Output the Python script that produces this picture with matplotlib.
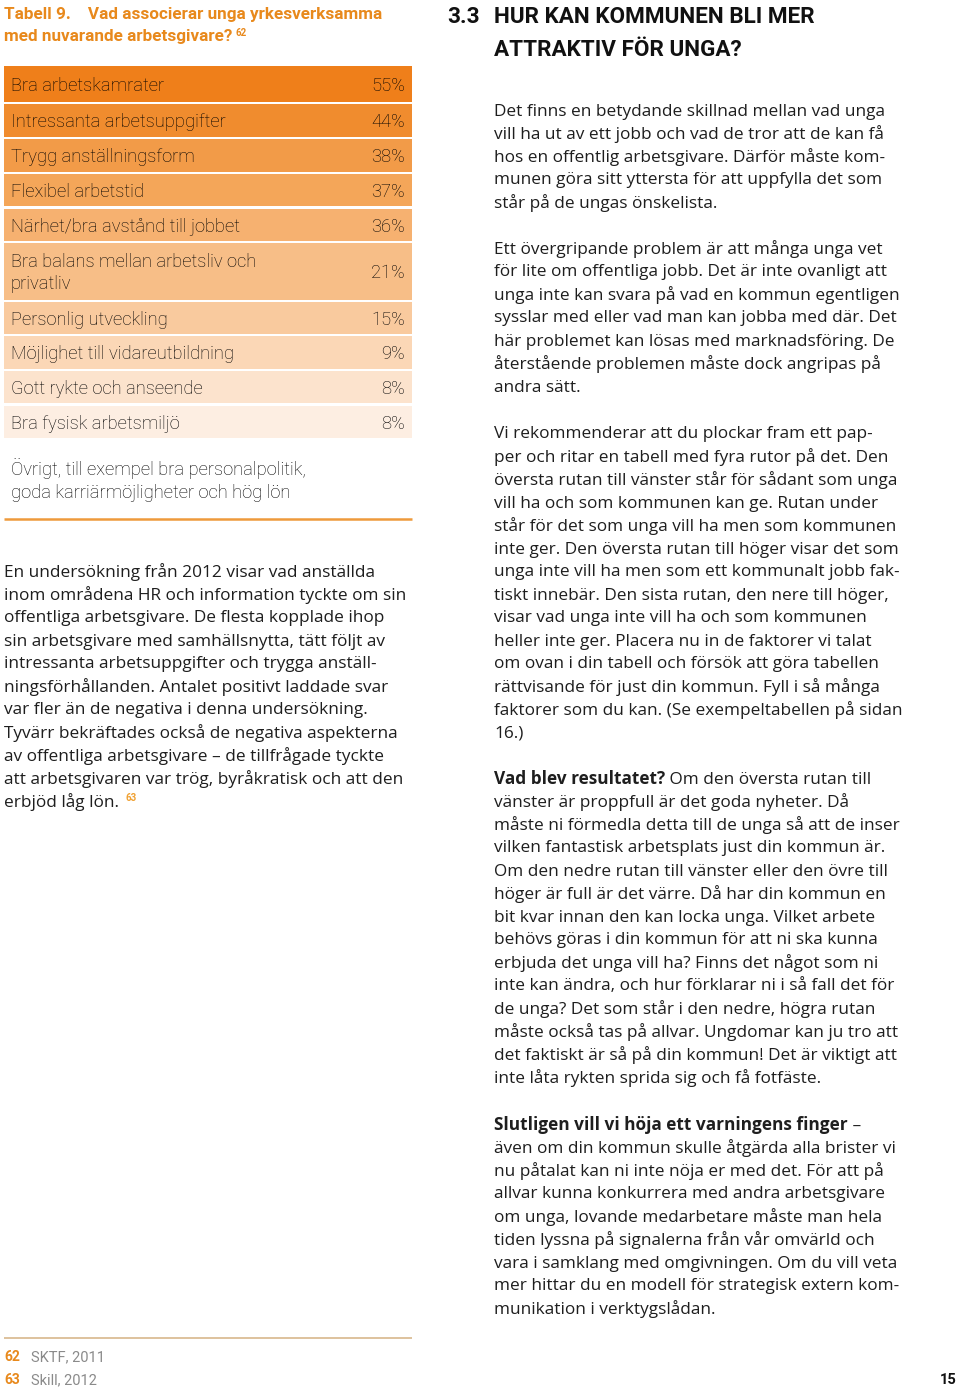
"""Page 15 recreation: table 9 (colour-graded rows) plus the two text columns."""
import matplotlib
matplotlib.use("Agg")
import matplotlib.pyplot as plt

# ---- data -------------------------------------------------------------
categories = [
    "Bra arbetskamrater",
    "Intressanta arbetsuppgifter",
    "Trygg anställningsform",
    "Flexibel arbetstid",
    "Närhet/bra avstånd till jobbet",
    "Bra balans mellan arbetsliv och\nprivatliv",
    "Personlig utveckling",
    "Möjlighet till vidareutbildning",
    "Gott rykte och anseende",
    "Bra fysisk arbetsmiljö",
]
values = [55, 44, 38, 37, 36, 21, 15, 9, 8, 8]
other_label = "Övrigt, till exempel bra personalpolitik,\ngoda karriärmöjligheter och hög lön"

title_lines = ["Tabell 9.    Vad associerar unga yrkesverksamma",
               "med nuvarande arbetsgivare?"]
heading_lines = ["HUR KAN KOMMUNEN BLI MER", "ATTRAKTIV FÖR UNGA?"]

left_para = [
    "En undersökning från 2012 visar vad anställda",
    "inom områdena HR och information tyckte om sin",
    "offentliga arbetsgivare. De flesta kopplade ihop",
    "sin arbetsgivare med samhällsnytta, tätt följt av",
    "intressanta arbetsuppgifter och trygga anställ-",
    "ningsförhållanden. Antalet positivt laddade svar",
    "var fler än de negativa i denna undersökning.",
    "Tyvärr bekräftades också de negativa aspekterna",
    "av offentliga arbetsgivare – de tillfrågade tyckte",
    "att arbetsgivaren var trög, byråkratisk och att den",
    "erbjöd låg lön.",
]

right_paras = [
    ["Det finns en betydande skillnad mellan vad unga",
     "vill ha ut av ett jobb och vad de tror att de kan få",
     "hos en offentlig arbetsgivare. Därför måste kom-",
     "munen göra sitt yttersta för att uppfylla det som",
     "står på de ungas önskelista."],
    ["Ett övergripande problem är att många unga vet",
     "för lite om offentliga jobb. Det är inte ovanligt att",
     "unga inte kan svara på vad en kommun egentligen",
     "sysslar med eller vad man kan jobba med där. Det",
     "här problemet kan lösas med marknadsföring. De",
     "återstående problemen måste dock angripas på",
     "andra sätt."],
    ["Vi rekommenderar att du plockar fram ett pap-",
     "per och ritar en tabell med fyra rutor på det. Den",
     "översta rutan till vänster står för sådant som unga",
     "vill ha och som kommunen kan ge. Rutan under",
     "står för det som unga vill ha men som kommunen",
     "inte ger. Den översta rutan till höger visar det som",
     "unga inte vill ha men som ett kommunalt jobb fak-",
     "tiskt innebär. Den sista rutan, den nere till höger,",
     "visar vad unga inte vill ha och som kommunen",
     "heller inte ger. Placera nu in de faktorer vi talat",
     "om ovan i din tabell och försök att göra tabellen",
     "rättvisande för just din kommun. Fyll i så många",
     "faktorer som du kan. (Se exempeltabellen på sidan",
     "16.)"],
    ["**Vad blev resultatet?** Om den översta rutan till",
     "vänster är proppfull är det goda nyheter. Då",
     "måste ni förmedla detta till de unga så att de inser",
     "vilken fantastisk arbetsplats just din kommun är.",
     "Om den nedre rutan till vänster eller den övre till",
     "höger är full är det värre. Då har din kommun en",
     "bit kvar innan den kan locka unga. Vilket arbete",
     "behövs göras i din kommun för att ni ska kunna",
     "erbjuda det unga vill ha? Finns det något som ni",
     "inte kan ändra, och hur förklarar ni i så fall det för",
     "de unga? Det som står i den nedre, högra rutan",
     "måste också tas på allvar. Ungdomar kan ju tro att",
     "det faktiskt är så på din kommun! Det är viktigt att",
     "inte låta rykten sprida sig och få fotfäste."],
    ["**Slutligen vill vi höja ett varningens finger** –",
     "även om din kommun skulle åtgärda alla brister vi",
     "nu påtalat kan ni inte nöja er med det. För att på",
     "allvar kunna konkurrera med andra arbetsgivare",
     "om unga, lovande medarbetare måste man hela",
     "tiden lyssna på signalerna från vår omvärld och",
     "vara i samklang med omgivningen. Om du vill veta",
     "mer hittar du en modell för strategisk extern kom-",
     "munikation i verktygslådan."],
]
right_starts = [110, 248, 433, 778, 1124]

footnotes = [("62", "SKTF, 2011"), ("63", "Skill, 2012")]
page_no = "15"

# ---- style ------------------------------------------------------------
ROW_COLOURS = ["#EF7F1A", "#F08C2E", "#F29B48", "#F4A659", "#F6B170",
               "#F7BE87", "#F9CA9E", "#FBD7B6", "#FCE3CD", "#FDEEE2"]
ROW_HEIGHTS = [36, 33, 32.5, 32.5, 32, 57, 32, 32.5, 32.5, 32.5]
ORANGE = "#E8891C"
INK = "#1E1E1E"
BODY = dict(family=["Open Sans", "DejaVu Sans"], fontsize=12.4, color=INK)
TABLE = dict(family=["Roboto", "DejaVu Sans"], fontsize=13.2, color="#000000", weight="light")
HEAD = dict(family=["Roboto", "DejaVu Sans"], weight="bold")
LH = 23  # body line height, px
DY = 1.5  # va=center sits a little high against the page baselines

fig = plt.figure(figsize=(9.6, 13.89), dpi=100)
ax = fig.add_axes([0, 0, 1, 1])
ax.set_xlim(0, 960)
ax.set_ylim(1389, 0)
ax.axis("off")

# ---- table ------------------------------------------------------------
tops, y = [], 65.7
for h in ROW_HEIGHTS:
    tops.append(y)
    y += h + 2.2
centers = [t + h / 2 for t, h in zip(tops, ROW_HEIGHTS)]
ax.barh(centers, 408, height=ROW_HEIGHTS, left=4, color=ROW_COLOURS, lw=0)
for c, lab, v in zip(centers, categories, values):
    ax.text(11, c + 2, lab, va="center", ha="left", linespacing=1.3, **TABLE)
    ax.text(405, c + 2, f"{v}%", va="center", ha="right", **TABLE)
ax.text(11, 480, other_label, va="center", ha="left", linespacing=1.4, **TABLE)
ax.plot([4, 412], [518.5, 518.5], color="#EE9A3C", lw=1.8, solid_capstyle="butt")

# title
ax.text(4, 14, title_lines[0], va="center", ha="left", color=ORANGE, fontsize=12.3, **HEAD)
t2 = ax.text(4, 37, title_lines[1], va="center", ha="left", color=ORANGE, fontsize=12.3, **HEAD)

fig.canvas.draw()
renderer = fig.canvas.get_renderer()


def right_edge(txt):
    return txt.get_window_extent(renderer).x1


ax.text(right_edge(t2) + 3, 33, "62", va="center", ha="left", color=ORANGE,
        fontsize=7, **HEAD)

# heading
for i, line in enumerate(heading_lines):
    ax.text(494, 17 + 33 * i, line, va="center", ha="left", color="#111111", fontsize=16.2, **HEAD)
ax.text(447, 17, "3.3", va="center", ha="left", color="#111111", fontsize=16.2, **HEAD)


# ---- body text ----------------------------------------------------------
def body_line(x, yy, line):
    yy += DY
    if line.startswith("**"):
        bold, rest = line[2:].split("**", 1)
        tb = ax.text(x, yy, bold, va="center", ha="left", weight="bold", **BODY)
        fig.canvas.draw()
        return ax.text(right_edge(tb), yy, rest, va="center", ha="left", **BODY)
    return ax.text(x, yy, line, va="center", ha="left", **BODY)


for i, line in enumerate(left_para):
    last = body_line(4, 571 + LH * i, line)
fig.canvas.draw()
ax.text(right_edge(last) + 6, 798, "63", va="center", ha="left", color="#F0A030",
        fontsize=7, **HEAD)

for start, para in zip(right_starts, right_paras):
    for i, line in enumerate(para):
        body_line(494, start + LH * i, line)

# ---- footnotes ----------------------------------------------------------
ax.plot([4, 412], [1338, 1338], color="#D8B88C", lw=1.2, solid_capstyle="butt")
for i, (num, src) in enumerate(footnotes):
    yy = 1357 + 23 * i
    ax.text(4, yy, num, va="center", ha="left", color=ORANGE, fontsize=10, **HEAD)
    ax.text(31, yy, src, va="center", ha="left", color="#8A8A8A", fontsize=10.5,
            family=["Roboto", "DejaVu Sans"])
ax.text(957, 1380, page_no, va="center", ha="right", color="#111111", fontsize=10.5, **HEAD)

fig.savefig("out.png", dpi=100)
